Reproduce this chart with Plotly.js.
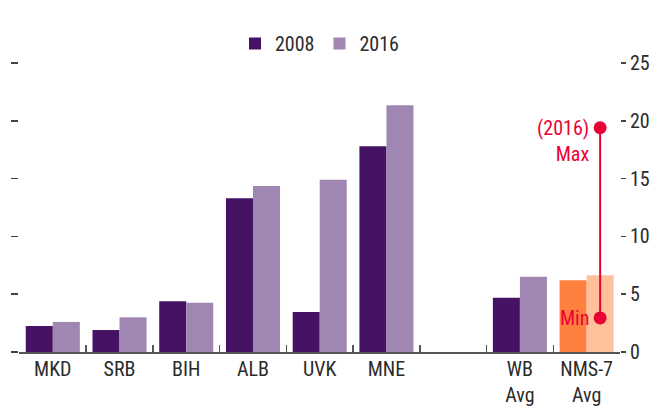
<!DOCTYPE html>
<html>
<head>
<meta charset="utf-8">
<script src="https://cdn.plot.ly/plotly-3.0.1.min.js"></script>
<style>html,body{margin:0;padding:0;background:#fff}#chart{width:661px;height:409px}</style>
</head>
<body>
<div id="chart"></div>
<script>
// ---- data ----
const categories = ["MKD", "SRB", "BIH", "ALB", "UVK", "MNE", " ", "WB<br>Avg", "NMS-7<br>Avg"];
const values2008 = [2.25, 1.9, 4.4, 13.3, 3.45, 17.8, null, 4.7, 6.2];
const values2016 = [2.6, 3.0, 4.25, 14.35, 14.9, 21.35, null, 6.5, 6.65];
const seriesNames = ["2008", "2016"];
const rangeCategory = "NMS-7<br>Avg";
const rangeMin = 2.95;
const rangeMax = 19.4;
const yTicks = [0, 5, 10, 15, 20, 25];

// ---- styles ----
const FONT = "Roboto Condensed, Roboto, sans-serif";
const FS = 20;
const DARK = "#461263", LIGHT = "#A086B2";
const ORANGE = "#FF7F3F", PEACH = "#FFC19C";
const RED = "#EB0033";
const TXT = "#2b2b2b";
const BARGAP = 0.19;

const col2008 = categories.map(c => c === rangeCategory ? ORANGE : DARK);
const col2016 = categories.map(c => c === rangeCategory ? PEACH : LIGHT);

const idx = categories.indexOf(rangeCategory);
const xPoint = idx + (1 - BARGAP) / 4; // center of second bar in group

const traces = [
  {type: "bar", name: seriesNames[0], x: categories, y: values2008,
   marker: {color: col2008, line: {width: 0}}},
  {type: "bar", name: seriesNames[1], x: categories, y: values2016,
   marker: {color: col2016, line: {width: 0}}},
  {type: "scatter", mode: "lines+markers", xaxis: "x2", yaxis: "y",
   x: [xPoint, xPoint], y: [rangeMin, rangeMax], showlegend: false,
   line: {color: RED, width: 2}, marker: {color: RED, size: 13}},
  {type: "scatter", x: [categories[0]], y: [null], yaxis: "y2", showlegend: false, hoverinfo: "skip"}
];

const layout = {
  width: 661, height: 409,
  margin: {l: 19, r: 41, t: 63, b: 57},
  paper_bgcolor: "#fff", plot_bgcolor: "#fff",
  font: {family: FONT, size: FS, color: TXT},
  barmode: "group", bargap: BARGAP, bargroupgap: 0,
  showlegend: true,
  legend: {orientation: "h", x: 0.5, xanchor: "center", y: 1.0, yanchor: "bottom",
           font: {family: FONT, size: FS, color: TXT}, itemwidth: 30, traceorder: "normal"},
  xaxis: {type: "category", categoryorder: "array", categoryarray: categories,
          tickson: "boundaries", ticks: "inside", ticklen: 7, tickwidth: 1.5, tickcolor: "#555",
          showline: true, linecolor: "#555", linewidth: 2, showgrid: false, zeroline: false,
          ticklabelstandoff: -2,
          tickfont: {family: FONT, size: FS, color: TXT}, fixedrange: true},
  xaxis2: {overlaying: "x", range: [-0.5, categories.length - 0.5], visible: false},
  yaxis: {range: [0, 25], tickvals: yTicks, ticks: "outside", ticklen: 7, tickwidth: 1.5,
          tickcolor: "#444", showticklabels: false, showgrid: false, zeroline: false, showline: false},
  yaxis2: {overlaying: "y", side: "right", range: [0, 25], tickvals: yTicks, ticks: "outside",
           ticklen: 5, tickwidth: 1.5, tickcolor: "#444", showgrid: false, zeroline: false,
           showline: false, tickfont: {family: FONT, size: FS, color: TXT}},
  annotations: [
    {xref: "x2", yref: "y", x: xPoint, y: rangeMax, text: "(2016)<br>Max", showarrow: false,
     xanchor: "right", yanchor: "top", align: "right", xshift: -9, yshift: 14,
     font: {family: FONT, size: FS, color: RED}},
    {xref: "x2", yref: "y", x: xPoint, y: rangeMin, text: "Min", showarrow: false,
     xanchor: "right", yanchor: "middle", align: "right", xshift: -9,
     font: {family: FONT, size: FS, color: RED}}
  ]
};

Plotly.newPlot("chart", traces, layout, {displayModeBar: false, staticPlot: true});
</script>
</body>
</html>
